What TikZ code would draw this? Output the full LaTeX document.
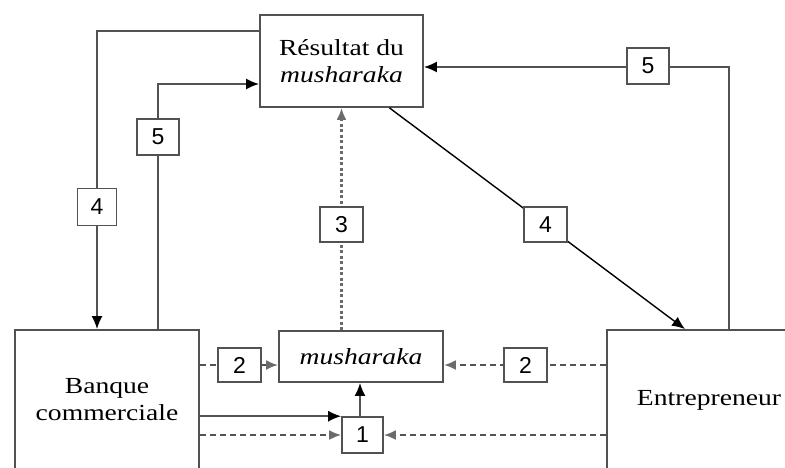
\documentclass[tikz,border=0pt]{standalone}
\usepackage{fontspec}
\setmainfont{Liberation Serif}[FakeStretch=1.2]
\newfontfamily\itfont{Liberation Serif Italic}[FakeStretch=1.2]
\newfontfamily\numfont{Liberation Sans}
\usetikzlibrary{arrows.meta}
\definecolor{lgray}{gray}{0.32}
\definecolor{tgray}{gray}{0.42}
\tikzset{
  bigbox/.style={draw=lgray, line width=1.8pt, fill=white, align=center, inner sep=0pt,
    font=\fontsize{23}{27}\selectfont},
  numbox/.style={draw=lgray, line width=1.6pt, fill=white, minimum width=42pt, minimum height=36pt,
    inner sep=0pt, font=\numfont\fontsize{23}{23}\selectfont},
  conn/.style={draw=lgray, line width=1.7pt},
  dconn/.style={draw=lgray, line width=2.2pt, dash pattern=on 6pt off 4pt},
  dotconn/.style={draw=tgray, line width=2.8pt, dash pattern=on 3pt off 2.5pt},
  blacktip/.style={-{Latex[length=13pt,width=11pt,color=black]}},
  graytip/.style={-{Latex[length=12pt,width=10pt,color=tgray]}},
}
\begin{document}
\begin{tikzpicture}[x=1pt,y=-1pt]
\useasboundingbox (0,0) rectangle (785,467);
\clip (0,0) rectangle (785,467);
% main boxes
\node[bigbox, minimum width=163pt, minimum height=92pt] (res) at (341.5,61) {Résultat du\\\itfont musharaka};
\node[bigbox, minimum width=184pt, minimum height=140pt] (bank) at (107,400) {Banque\\commerciale};
\node[bigbox, minimum width=204pt, minimum height=140pt] (ent) at (709,400) {Entrepreneur};
\node[bigbox, minimum width=164pt, minimum height=51pt] (mush) at (361,356.5) {\itfont musharaka};
% label positions (coordinates for routing)
\coordinate (c4a) at (97,207);
\coordinate (c5a) at (158,137);
\coordinate (c3) at (341.5,224.5);
\coordinate (c4b) at (545.5,224.5);
\coordinate (c5b) at (648,66);
\coordinate (c2a) at (239.5,365);
\coordinate (c2b) at (525.5,365);
\coordinate (c1) at (362.5,435);
% connectors
\draw[conn, blacktip] ([yshift=-17pt]res.north west) -| (bank.north -| c4a);
\draw[conn, blacktip] (bank.north -| c5a) |- ([yshift=-23pt]res.west);
\draw[conn, blacktip] ([xshift=20pt]ent.north) |- ([yshift=-6pt]res.east);
\draw[dotconn, graytip] (res.south |- mush.north) -- (res.south);
\draw[line width=1.4pt, black, blacktip] ([xshift=48pt]res.south) -- ([xshift=-24pt]ent.north);
\draw[dconn, graytip] (bank.east |- c2a) -- (mush.west |- c2a);
\draw[dconn, graytip] (ent.west |- c2b) -- (mush.east |- c2b);
% label boxes
\node[numbox, minimum width=39pt, minimum height=37pt] (l4a) at (c4a) {4};
\node[numbox] (l5a) at (c5a) {5};
\node[numbox, minimum width=43pt, minimum height=35pt] (l3) at (c3) {3};
\node[numbox, minimum width=43pt, minimum height=35pt] (l4b) at (c4b) {4};
\node[numbox] (l5b) at (c5b) {5};
\node[numbox, minimum width=43pt, minimum height=34pt] (l2a) at (c2a) {2};
\node[numbox, minimum width=43pt, minimum height=34pt] (l2b) at (c2b) {2};
\node[numbox, minimum width=41pt, minimum height=36pt] (l1) at (c1) {1};
% connectors to label 1
\draw[conn, blacktip] (bank.east |- l1.north west) -- (l1.north west);
\draw[dconn, graytip] (bank.east |- l1) -- (l1.west);
\draw[dconn, graytip] (ent.west |- l1) -- (l1.east);
\draw[conn, blacktip] (l1.north -| 360,0) -- (mush.south -| 360,0);
\end{tikzpicture}
\end{document}
